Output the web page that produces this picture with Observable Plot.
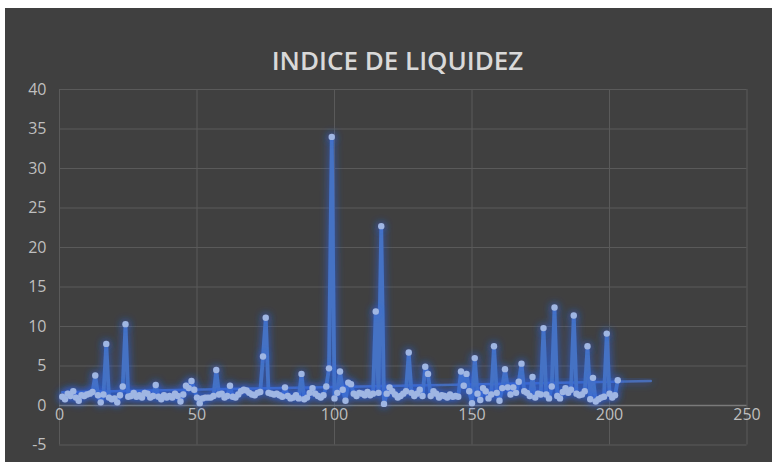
<!DOCTYPE html>
<html>
<head>
<meta charset="utf-8">
<script src="https://cdn.jsdelivr.net/npm/d3@7"></script>
<script src="https://cdn.jsdelivr.net/npm/@observablehq/plot@0.6"></script>
<style>
  html, body { margin: 0; padding: 0; background: #ffffff; }
  #chart { position: absolute; left: 5px; top: 8px; width: 767px; height: 454px; background: #404040; overflow: hidden; }
  #title { position: absolute; left: 9px; width: 767px; top: 34px; text-align: center; font-family: "Open Sans", sans-serif; font-weight: 600; font-size: 26px; color: #d9d9d9; }
  #plot { position: absolute; left: 0; top: 0; }
</style>
</head>
<body>
<div id="chart">
  <div id="plot"></div>
  <div id="title">INDICE DE LIQUIDEZ</div>
</div>
<script>
const titleText = "INDICE DE LIQUIDEZ";
const xTicks = [0, 50, 100, 150, 200, 250];
const yTicks = [-5, 0, 5, 10, 15, 20, 25, 30, 35, 40];
const values = [
  1.1, 0.8, 1.5, 1.2, 1.8, 1.0, 0.6, 1.3, 1.2, 1.4, 1.5, 1.7,
  3.8, 1.3, 0.4, 1.4, 7.8, 1.0, 0.8, 0.9, 0.4, 1.3, 2.4, 10.3,
  1.1, 1.2, 1.6, 1.1, 1.3, 1.0, 1.6, 1.5, 1.0, 1.2, 2.6, 1.1, 0.8, 1.3, 1.0, 1.2,
  1.0, 1.5, 1.2, 0.5, 1.4, 2.5, 2.2, 3.1, 2.0, 1.0, 0.3, 0.9, 1.0, 1.0, 1.0, 1.2,
  4.5, 1.4, 1.5, 1.0, 1.2, 2.5, 1.1, 1.0, 1.4, 1.8, 2.0, 1.9, 1.6, 1.4, 1.3, 1.6,
  1.7, 6.2, 11.1, 1.6, 1.5, 1.4, 1.5, 1.3, 1.1, 2.3, 1.2, 0.9, 1.0, 1.3, 0.9, 4.0,
  0.8, 1.0, 1.6, 2.2, 1.5, 1.2, 1.0, 1.3, 2.4, 4.7, 34.0, 0.9, 1.6, 4.3, 2.0, 0.6,
  2.9, 2.7, 1.5, 1.2, 1.6, 1.5, 1.3, 1.7, 1.3, 1.5, 11.9, 1.6, 22.7, 0.2, 1.5, 2.3,
  1.8, 1.4, 1.0, 1.2, 1.5, 1.8, 6.7, 1.6, 1.2, 1.5, 2.0, 1.2, 4.9, 4.0, 1.2, 1.8,
  1.5, 1.0, 1.3, 1.2, 1.0, 1.4, 1.1, 1.2, 1.1, 4.3, 2.5, 4.0, 1.8, 0.3, 6.0, 1.5,
  0.7, 2.2, 1.8, 0.9, 1.4, 7.5, 1.6, 0.6, 2.2, 4.6, 2.3, 1.4, 2.3, 1.6, 3.0, 5.3,
  1.8, 1.6, 1.2, 3.6, 1.0, 1.5, 1.4, 9.8, 1.4, 0.9, 2.4, 12.4, 1.2, 0.9, 1.7, 2.2,
  1.6, 2.0, 11.4, 1.5, 1.3, 1.4, 1.8, 7.5, 0.8, 3.5, 0.5, 0.8, 1.0, 1.1, 9.1, 1.5,
  1.0, 1.3, 3.2
];
const trendForward = 12;

const data = values.map((v, i) => ({x: i + 1, y: v}));

// linear trend line (least squares) extended forward
const n = data.length;
const mx = d3.mean(data, d => d.x), my = d3.mean(data, d => d.y);
const slope = d3.sum(data, d => (d.x - mx) * (d.y - my)) / d3.sum(data, d => (d.x - mx) ** 2);
const intercept = my - slope * mx;
const x0 = 1, x1 = n + trendForward;
const trend = [{x: x0, y: intercept + slope * x0}, {x: x1, y: intercept + slope * x1}];

const font = "'Open Sans', sans-serif";
const plot = Plot.plot({
  width: 767,
  height: 454,
  marginLeft: 54,
  marginRight: 25.5,
  marginTop: 81,
  marginBottom: 17.5,
  style: {background: "transparent", color: "#bfbfbf", fontFamily: font, fontSize: "16px"},
  x: {domain: [0, 250], ticks: xTicks, axis: null},
  y: {domain: [-5, 40], ticks: yTicks, axis: null},
  marks: [
    Plot.gridX(xTicks, {stroke: "#5a5a5a", strokeOpacity: 1, strokeWidth: 1}),
    Plot.gridY(yTicks.filter(t => t !== 0), {stroke: "#5a5a5a", strokeOpacity: 1, strokeWidth: 1}),
    Plot.ruleY([0], {stroke: "#7a7a7a", strokeWidth: 1.3}),
    Plot.text(yTicks, {x: 0, y: d => d, dx: -13, text: d => String(d), fill: "#bfbfbf", fontSize: 16, textAnchor: "end", lineAnchor: "middle"}),
    Plot.text(xTicks, {x: d => d, y: 0, dy: 9, text: d => String(d), fill: "#bfbfbf", fontSize: 16, textAnchor: "middle", lineAnchor: "middle"}),
    Plot.line(trend, {x: "x", y: "y", stroke: "#4a72c0", strokeWidth: 2.5, strokeOpacity: 0.9}),
    Plot.line(data, {x: "x", y: "y", stroke: "#4472c4", strokeWidth: 3.8, strokeLinejoin: "round"}),
    Plot.dot(data, {x: "x", y: "y", r: 3.2, fill: "#9fb6e3", stroke: "none"})
  ]
});

// glow filter
const svg = d3.select(plot);
const defs = svg.insert("defs", ":first-child");
const f = defs.append("filter").attr("id", "glow").attr("x", "-20%").attr("y", "-20%").attr("width", "140%").attr("height", "140%");
f.append("feGaussianBlur").attr("in", "SourceAlpha").attr("stdDeviation", 4).attr("result", "blur");
f.append("feFlood").attr("flood-color", "#2a62e8").attr("flood-opacity", 0.9).attr("result", "col");
f.append("feComposite").attr("in", "col").attr("in2", "blur").attr("operator", "in").attr("result", "glow");
const m = f.append("feMerge");
m.append("feMergeNode").attr("in", "glow");
m.append("feMergeNode").attr("in", "SourceGraphic");
svg.selectAll('g[aria-label="line"], g[aria-label="dot"]').attr("filter", "url(#glow)");

document.getElementById("plot").appendChild(plot);
document.getElementById("title").textContent = titleText;
</script>
</body>
</html>
